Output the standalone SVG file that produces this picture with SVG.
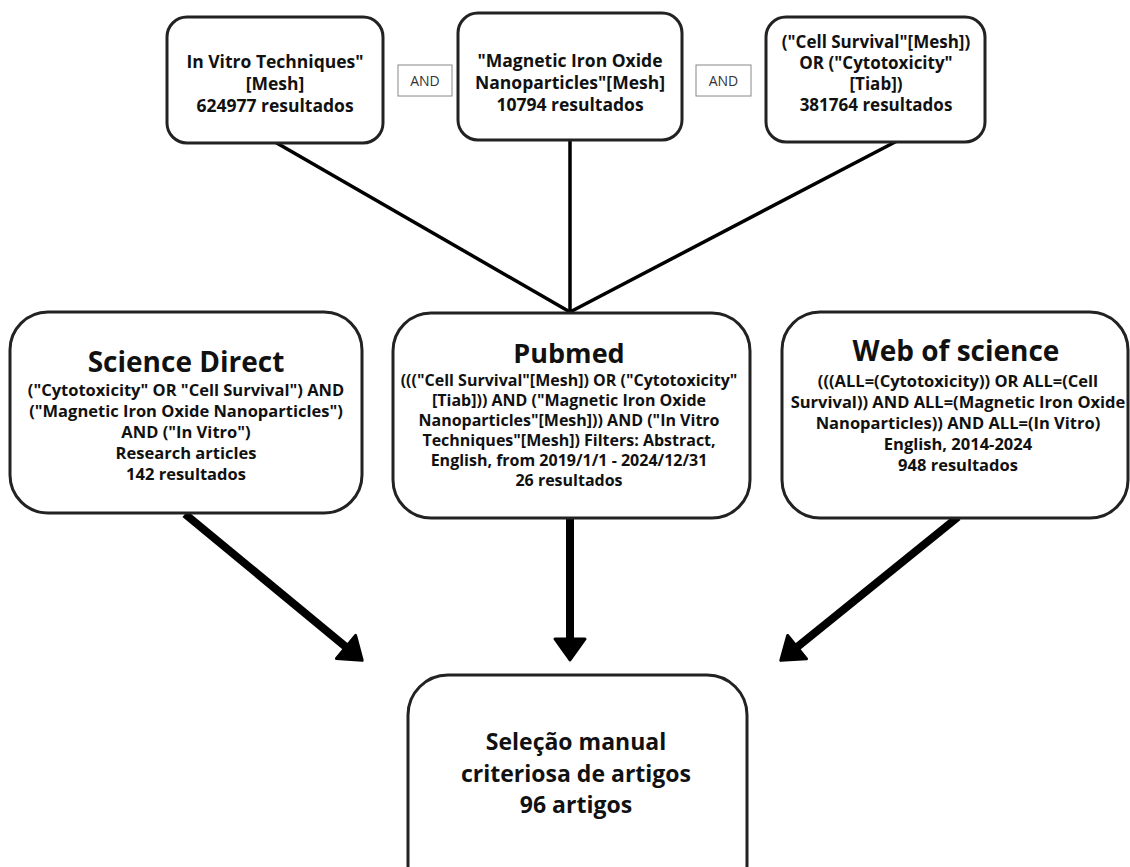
<svg xmlns="http://www.w3.org/2000/svg" width="1130" height="867" viewBox="0 0 1130 867">
<style>
.box{fill:#fff;stroke:#222;stroke-width:3}
.and{fill:#fff;stroke:#888;stroke-width:1}
.t{font-family:"Open Sans","Liberation Sans",sans-serif;font-weight:700;fill:#111;text-anchor:middle}
.s18{font-size:17.5px}
.s17b{font-size:17px}
.s16{font-size:16.5px}
.s16p{font-size:16px}
.s17{font-size:16.5px}
.s28{font-size:28px}
.s24{font-size:23px}
.a{font-family:"Open Sans","Liberation Sans",sans-serif;font-size:14px;fill:#333;text-anchor:middle}
.thin{stroke:#000;stroke-width:3.5;fill:none}
.thick{stroke:#000;stroke-width:8;fill:none;marker-end:url(#ah)}
</style>
<defs>
<marker id="ah" markerUnits="userSpaceOnUse" viewBox="-4 -22 32 44" refX="8" refY="0" markerWidth="32" markerHeight="44" orient="auto">
<path d="M0,-15 L21,0 L0,15 Z" fill="#000" stroke="#000" stroke-width="3" stroke-linejoin="round"/>
</marker>
</defs>
<g id="connectors">
<line class="thin" x1="275" y1="142" x2="570" y2="312"/>
<line class="thin" x1="570" y1="139" x2="570" y2="312"/>
<line class="thin" x1="897" y1="141" x2="570" y2="312"/>
<line class="thick" x1="185" y1="514" x2="352.2" y2="652.1"/>
<line class="thick" x1="570" y1="518" x2="570" y2="647"/>
<line class="thick" x1="958" y1="517" x2="790.9" y2="652.2"/>
</g>
<g id="node-invitro">
<rect class="box" x="167" y="17" width="216" height="126" rx="20"/>
<text class="t s18" x="275" y="68">In Vitro Techniques"</text>
<text class="t s18" x="275" y="90">[Mesh]</text>
<text class="t s18" x="275" y="112">624977 resultados</text>
</g>
<g id="and1">
<rect class="and" x="398" y="65" width="54" height="31"/>
<text class="a" x="425" y="85.5">AND</text>
</g>
<g id="node-mion">
<rect class="box" x="458" y="13" width="224" height="127" rx="20"/>
<text class="t s18" x="570" y="66.5">"Magnetic Iron Oxide</text>
<text class="t s18" x="570" y="88.5">Nanoparticles"[Mesh]</text>
<text class="t s18" x="570" y="110.5">10794 resultados</text>
</g>
<g id="and2">
<rect class="and" x="696" y="65" width="55" height="31"/>
<text class="a" x="723.5" y="85.5">AND</text>
</g>
<g id="node-cell">
<rect class="box" x="766" y="17" width="219" height="125" rx="20"/>
<text class="t s17b" x="876" y="48">("Cell Survival"[Mesh])</text>
<text class="t s17b" x="876" y="69">OR ("Cytotoxicity"</text>
<text class="t s17b" x="876" y="90">[Tiab])</text>
<text class="t s17b" x="876" y="111">381764 resultados</text>
</g>
<g id="node-sciencedirect">
<rect class="box" x="10" y="312" width="352" height="201" rx="38"/>
<text class="t s28" x="186" y="372">Science Direct</text>
<text class="t s16" x="186" y="396">("Cytotoxicity" OR "Cell Survival") AND</text>
<text class="t s16" x="186" y="417">("Magnetic Iron Oxide Nanoparticles")</text>
<text class="t s16" x="186" y="438">AND ("In Vitro")</text>
<text class="t s16" x="186" y="459">Research articles</text>
<text class="t s16" x="186" y="480">142 resultados</text>
</g>
<g id="node-pubmed">
<rect class="box" x="393" y="313" width="357" height="205" rx="38"/>
<text class="t" style="font-size:27px" x="569" y="363">Pubmed</text>
<text class="t s16p" x="569" y="386">((("Cell Survival"[Mesh]) OR ("Cytotoxicity"</text>
<text class="t s16p" x="569" y="406">[Tiab])) AND ("Magnetic Iron Oxide</text>
<text class="t s16p" x="569" y="426">Nanoparticles"[Mesh])) AND ("In Vitro</text>
<text class="t s16p" x="569" y="446">Techniques"[Mesh]) Filters: Abstract,</text>
<text class="t s16p" x="569" y="466">English, from 2019/1/1 - 2024/12/31</text>
<text class="t s16p" x="569" y="486">26 resultados</text>
</g>
<g id="node-wos">
<rect class="box" x="782" y="312" width="346" height="206" rx="38"/>
<text class="t s28" x="956" y="361">Web of science</text>
<text class="t s17" x="958" y="387">(((ALL=(Cytotoxicity)) OR ALL=(Cell</text>
<text class="t s17" x="958" y="408">Survival)) AND ALL=(Magnetic Iron Oxide</text>
<text class="t s17" x="958" y="429">Nanoparticles)) AND ALL=(In Vitro)</text>
<text class="t s17" x="958" y="450">English, 2014-2024</text>
<text class="t s17" x="958" y="471">948 resultados</text>
</g>
<g id="node-selecao">
<rect class="box" x="408" y="675" width="339" height="230" rx="40"/>
<text class="t s24" x="576" y="750">Seleção manual</text>
<text class="t s24" x="576" y="781.5">criteriosa de artigos</text>
<text class="t s24" x="576" y="813">96 artigos</text>
</g>
</svg>
